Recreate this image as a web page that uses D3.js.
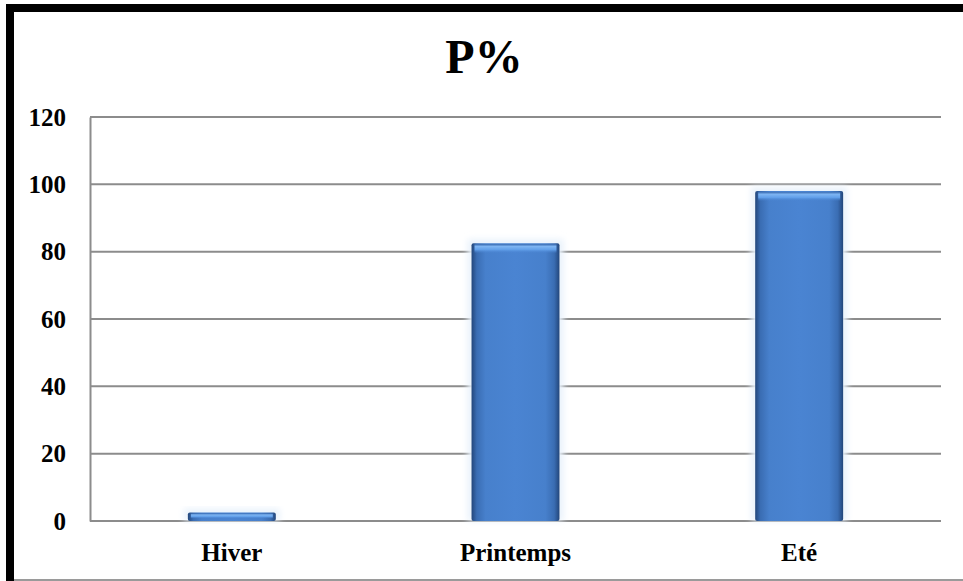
<!DOCTYPE html>
<html>
<head>
<meta charset="utf-8">
<script src="https://cdn.jsdelivr.net/npm/d3@7"></script>
<style>
  html, body { margin: 0; padding: 0; background: #fff; }
  svg { display: block; }
  text { font-family: "Liberation Serif", "Times New Roman", serif; font-weight: bold; fill: #000; }
</style>
</head>
<body>
<svg id="chart" width="963" height="581"></svg>
<script>
// Seasonal percentages
const categories = ["Hiver", "Printemps", "Eté"];
const values = [2.5, 82.5, 98];
const yTicks = [0, 20, 40, 60, 80, 100, 120];
const title = "P%";

const W = 963, H = 581;
const plot = { left: 90, right: 941, top: 117, bottom: 521 };

const svg = d3.select("#chart");

// Frame: heavy black rule on the top and left, thin grey rule at the bottom
svg.append("rect").attr("x", 0).attr("y", 0).attr("width", W).attr("height", H).attr("fill", "#fff");
svg.append("rect").attr("x", 6).attr("y", 4).attr("width", W - 6).attr("height", 8).attr("fill", "#000");
svg.append("rect").attr("x", 6).attr("y", 4).attr("width", 8).attr("height", H - 4).attr("fill", "#000");
svg.append("rect").attr("x", 14).attr("y", 579).attr("width", W - 14).attr("height", 2).attr("fill", "#9a9a9a");

// Title
svg.append("text")
  .attr("x", 484).attr("y", 73)
  .attr("text-anchor", "middle")
  .style("font-size", "48px")
  .text(title);

const x = d3.scaleBand()
  .domain(categories)
  .range([plot.left, plot.right])
  .paddingInner(0.69)
  .paddingOuter(0.345);

const y = d3.scaleLinear()
  .domain([0, 120])
  .range([plot.bottom, plot.top]);

// Horizontal gridlines
svg.append("g")
  .selectAll("line")
  .data(yTicks)
  .join("line")
  .attr("x1", plot.left).attr("x2", plot.right)
  .attr("y1", d => y(d)).attr("y2", d => y(d))
  .attr("stroke", "#8c8c8c")
  .attr("stroke-width", 2);

// Vertical axis line and tick labels
const yAxis = d3.axisLeft(y).tickValues(yTicks).tickSize(0).tickPadding(24);
const gy = svg.append("g").attr("transform", `translate(${plot.left},0)`).call(yAxis);
gy.select(".domain").attr("stroke", "#8c8c8c").attr("stroke-width", 2);
gy.selectAll("text")
  .style("font-size", "25px")
  .style("font-family", "'Liberation Serif', 'Times New Roman', serif")
  .style("font-weight", "bold")
  .attr("fill", "#000");

// Category labels
const xAxis = d3.axisBottom(x).tickSize(0).tickPadding(22);
const gx = svg.append("g").attr("transform", `translate(0,${plot.bottom})`).call(xAxis);
gx.select(".domain").remove();
gx.selectAll("text")
  .style("font-size", "25px")
  .style("font-family", "'Liberation Serif', 'Times New Roman', serif")
  .style("font-weight", "bold")
  .attr("fill", "#000");

// Bar gradients
const defs = svg.append("defs");
const side = defs.append("linearGradient").attr("id", "barSide")
  .attr("x1", "0").attr("x2", "1").attr("y1", "0").attr("y2", "0");
[["0%", "#23467a"], ["6%", "#3a6db3"], ["16%", "#4780cc"], ["50%", "#4a84d2"],
 ["84%", "#4780cc"], ["94%", "#3a6db3"], ["100%", "#23467a"]]
  .forEach(([o, c]) => side.append("stop").attr("offset", o).attr("stop-color", c));

const cap = defs.append("linearGradient").attr("id", "barCap")
  .attr("x1", "0").attr("x2", "0").attr("y1", "0").attr("y2", "1");
[["0%", "#3d6fb4"], ["25%", "#7db4f2"], ["60%", "#62a0ea"], ["100%", "#4a84d2", 0]]
  .forEach(([o, c, op]) => cap.append("stop").attr("offset", o).attr("stop-color", c)
    .attr("stop-opacity", op === undefined ? 1 : op));

const glow = defs.append("filter").attr("id", "glow")
  .attr("x", "-20%").attr("y", "-20%").attr("width", "140%").attr("height", "140%");
glow.append("feGaussianBlur").attr("stdDeviation", 3);

const bars = svg.append("g")
  .selectAll("g")
  .data(categories.map((c, i) => ({ c, v: values[i] })))
  .join("g");

// soft halo around each bar
bars.append("rect")
  .attr("x", d => x(d.c) - 4)
  .attr("y", d => y(d.v) - 4)
  .attr("width", x.bandwidth() + 8)
  .attr("height", d => y(0) - y(d.v) + 4)
  .attr("fill", "#e9f2fb")
  .attr("filter", "url(#glow)");

bars.append("rect")
  .attr("x", d => x(d.c))
  .attr("y", d => y(d.v))
  .attr("width", x.bandwidth())
  .attr("height", d => y(0) - y(d.v))
  .attr("rx", 2)
  .attr("fill", "url(#barSide)");

bars.append("rect")
  .attr("x", d => x(d.c) + 3)
  .attr("y", d => y(d.v) + 1)
  .attr("width", x.bandwidth() - 6)
  .attr("height", d => Math.min(9, (y(0) - y(d.v)) * 0.6))
  .attr("fill", "url(#barCap)");
</script>
</body>
</html>
